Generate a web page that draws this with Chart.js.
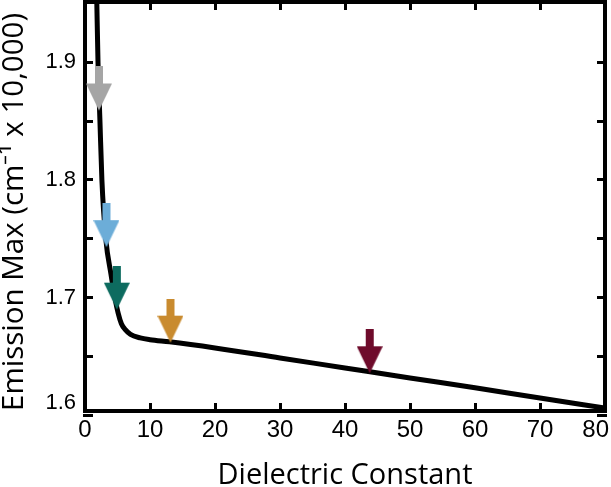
<!DOCTYPE html>
<html>
<head>
<meta charset="utf-8">
<script src="https://cdn.jsdelivr.net/npm/chart.js@4/dist/chart.umd.min.js"></script>
<style>
  html, body { margin: 0; padding: 0; background: #fff; }
  canvas { display: block; }
</style>
</head>
<body>
<canvas id="emissionChart" width="611" height="487"></canvas>
<script>
// fitted emission curve
const curveX = [1.8, 2.0, 2.3, 2.6, 3.2, 4.0, 4.6, 5.1, 5.6, 6.2, 7.0, 8.5, 10, 13, 20, 30, 40, 50, 60, 70, 80];
const curveY = [1.955, 1.90, 1.85, 1.80, 1.75, 1.72, 1.70, 1.687, 1.678, 1.673, 1.669, 1.666, 1.6645, 1.6627, 1.6575, 1.649, 1.6405, 1.632, 1.6237, 1.615, 1.6065];

// solvent arrows (tip sits on the curve)
const arrowX = [2.15, 3.3, 4.9, 13.15, 43.8];
const arrowY = [1.859, 1.743, 1.690, 1.662, 1.636];

// axis ticks
const xTicks = [0, 10, 20, 30, 40, 50, 60, 70, 80];
const yTicks = [1.6, 1.65, 1.7, 1.75, 1.8, 1.85, 1.9];

const arrowColors = ['#a5a5a5', '#6cadd8', '#0d6b5f', '#c98b2f', '#6e0b2b'];

// arrow image with the tip at the centre of the canvas
function makeArrow(color) {
    const c = document.createElement('canvas');
    c.width = 26;
    c.height = 88;
    const g = c.getContext('2d');
    g.fillStyle = color;
    g.fillRect(9, 0, 8, 18);
    g.beginPath();
    g.moveTo(0, 17);
    g.lineTo(26, 17);
    g.lineTo(13, 44);
    g.closePath();
    g.fill();
    return c;
}

const tickFont = { family: "'Liberation Sans', Arial, sans-serif", size: 22 };

function frameScale(extra) {
    return Object.assign({
        type: 'linear',
        grid: {
            drawOnChartArea: false,
            color: '#000',
            lineWidth: 3,
            tickLength: -8
        },
        border: { color: '#000', width: 4 }
    }, extra);
}

new Chart(document.getElementById('emissionChart'), {
    type: 'scatter',
    data: {
        datasets: [
            {
                label: 'Solvents',
                data: arrowX.map((x, i) => ({ x: x, y: arrowY[i] })),
                pointStyle: arrowColors.map(makeArrow),
                pointRadius: 10,
                showLine: false
            },
            {
                label: 'Emission Max',
                data: curveX.map((x, i) => ({ x: x, y: curveY[i] })),
                showLine: true,
                borderColor: '#000',
                borderWidth: 5,
                cubicInterpolationMode: 'monotone',
                pointRadius: 0
            }
        ]
    },
    options: {
        responsive: false,
        animation: false,
        events: [],
        layout: { padding: 0, autoPadding: false },
        plugins: {
            legend: { display: false },
            tooltip: { enabled: false }
        },
        scales: {
            x: frameScale({
                position: 'bottom',
                min: 0,
                max: 80,
                afterBuildTicks: s => { s.ticks = xTicks.map(v => ({ value: v })); },
                afterFit: s => { s.height = 76; s.paddingLeft = 0; s.paddingRight = 0; },
                ticks: {
                    autoSkip: false,
                    maxRotation: 0,
                    color: '#000',
                    font: { family: tickFont.family, size: 24 },
                    padding: 13,
                    callback: v => v === 80 ? '80\u2002 ' : String(v)
                },
                title: {
                    display: true,
                    text: 'Dielectric Constant',
                    color: '#000',
                    font: { family: "'Open Sans', sans-serif", size: 29, lineHeight: 0.8 },
                    padding: 0
                }
            }),
            y: frameScale({
                position: 'left',
                min: 1.604,
                max: 1.951,
                afterBuildTicks: s => { s.ticks = yTicks.map(v => ({ value: v })); },
                afterFit: s => { s.width = 85; s.paddingTop = 0; s.paddingBottom = 0; },
                ticks: {
                    autoSkip: false,
                    color: '#000',
                    font: tickFont,
                    padding: 17,
                    callback: v => {
                        if (Math.abs(v - 1.6) < 1e-6) return ['1.6', ''];
                        return Math.abs(v * 10 - Math.round(v * 10)) < 1e-6 ? v.toFixed(1) : '';
                    }
                },
                title: {
                    display: true,
                    align: 'start',
                    text: 'Emission Max (cm\u207B\u00B9 x 10,000)',
                    color: '#000',
                    font: { family: "'Open Sans', sans-serif", size: 29.5, lineHeight: 1 },
                    padding: 0
                }
            }),
            x2: frameScale({
                position: 'top',
                min: 0,
                max: 80,
                afterBuildTicks: s => { s.ticks = xTicks.map(v => ({ value: v })); },
                afterFit: s => { s.height = 2; s.paddingLeft = 0; s.paddingRight = 0; },
                ticks: { display: false }
            }),
            y2: frameScale({
                position: 'right',
                min: 1.604,
                max: 1.951,
                afterBuildTicks: s => { s.ticks = yTicks.map(v => ({ value: v })); },
                afterFit: s => { s.width = 6; s.paddingTop = 0; s.paddingBottom = 0; },
                ticks: { display: false }
            })
        }
    }
});
</script>
</body>
</html>
